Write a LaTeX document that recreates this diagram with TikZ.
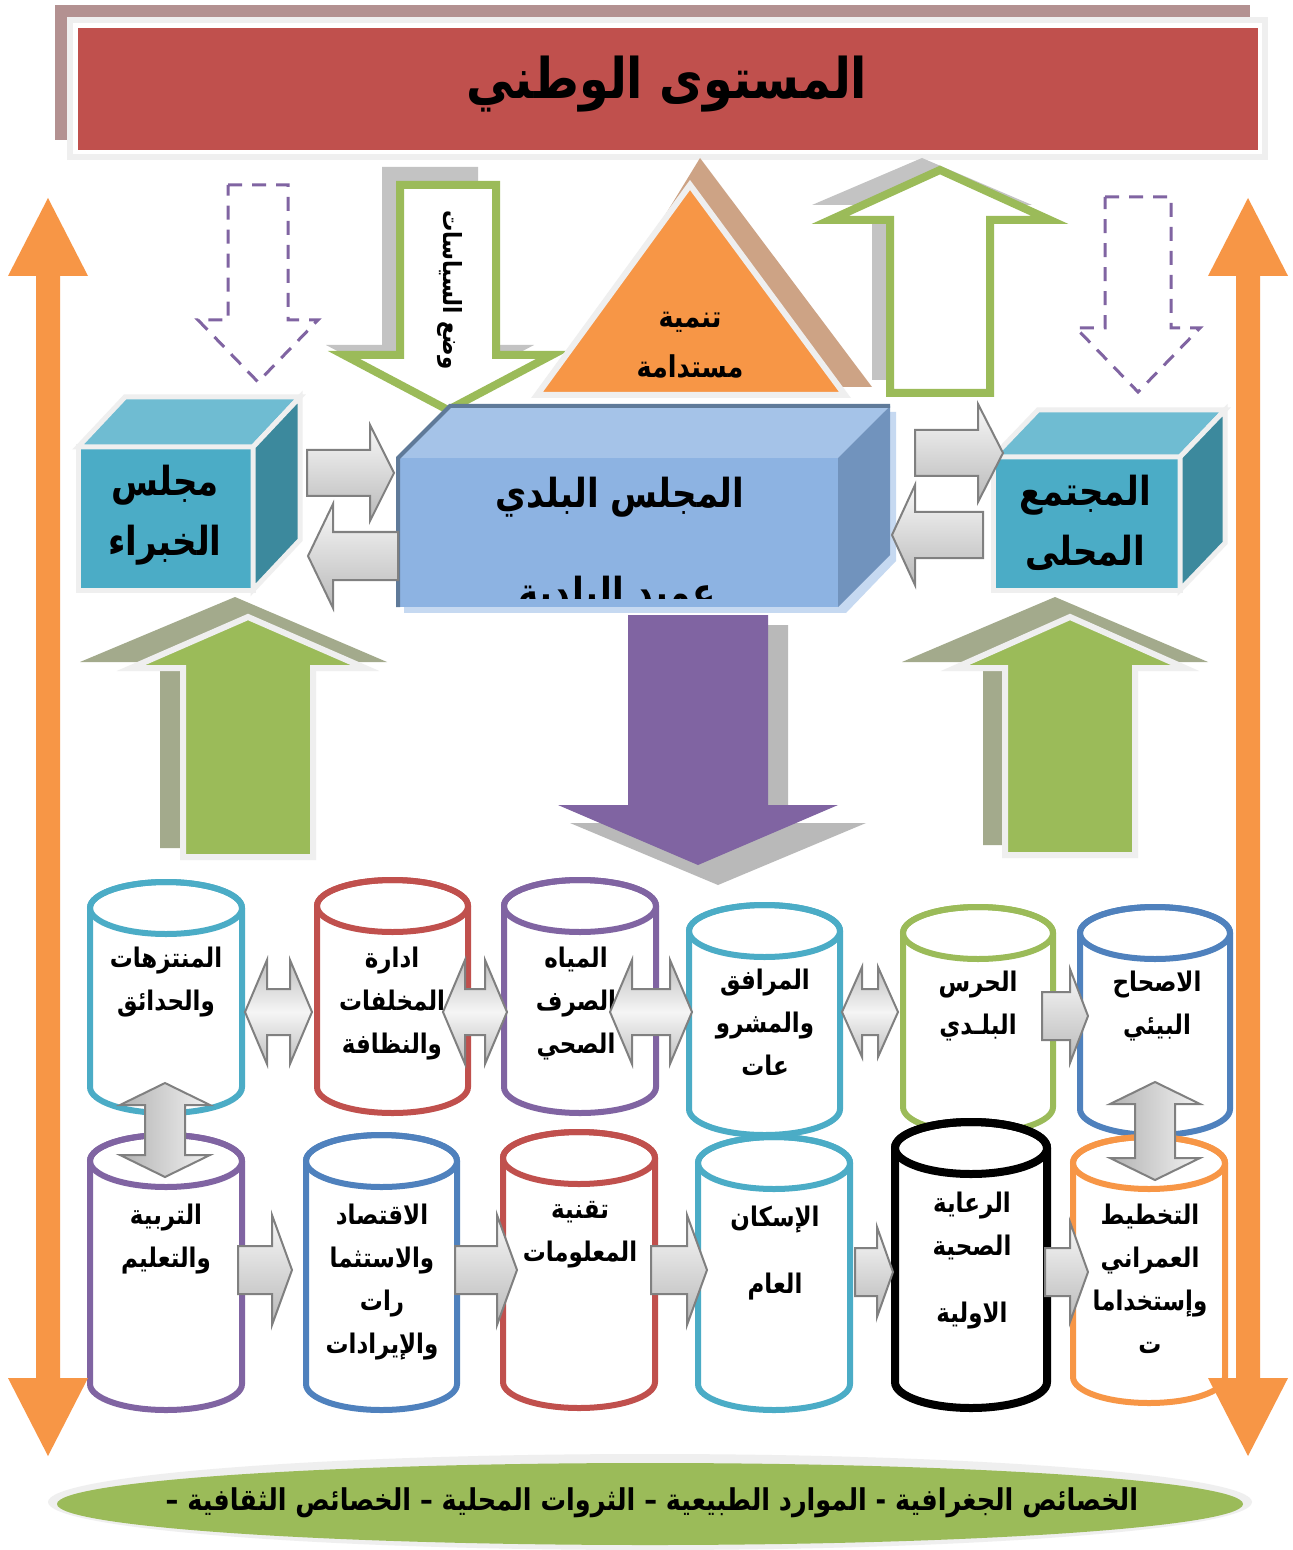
\documentclass[tikz,border=0pt]{standalone}
\usepackage{graphicx}
\usepackage{fontspec}
\newfontfamily\arfont[Script=Arabic]{DejaVu Sans}
\TeXXeTstate=1
% right-to-left line, slightly condensed
\newcommand\rl[1]{\scalebox{0.85}[1]{\beginR#1\endR}}
\newcommand\arb{\arfont\bfseries}

\definecolor{bannerred}{HTML}{C0504D}
\definecolor{bannershadow}{HTML}{B39191}
\definecolor{orangeA}{HTML}{F79646}
\definecolor{tealA}{HTML}{4BACC6}
\definecolor{tealTop}{HTML}{6FBCD2}
\definecolor{tealSide}{HTML}{3C899D}
\definecolor{blueFront}{HTML}{8DB3E2}
\definecolor{blueTop}{HTML}{A5C3E8}
\definecolor{blueSide}{HTML}{7193BD}
\definecolor{blueEdge}{HTML}{5F7A99}
\definecolor{blueGlow}{HTML}{C6D9F1}
\definecolor{greenA}{HTML}{9BBB59}
\definecolor{purpleA}{HTML}{8064A2}
\definecolor{blueA}{HTML}{4F81BD}
\definecolor{tanShadow}{HTML}{CDA385}
\definecolor{oliveShadow}{HTML}{A3AA8C}
\definecolor{frameGray}{HTML}{EFEFEF}
\definecolor{arrowShadow}{HTML}{C3C3C3}

% right-pointing block arrow: tail x, apex x, centre y, half shaft, half head, head length
\newcommand\blockR[7][]{\path[#1] (#2,{#4-#5}) -- ({#3-#7},{#4-#5}) -- ({#3-#7},{#4-#6}) -- (#3,#4) -- ({#3-#7},{#4+#6}) -- ({#3-#7},{#4+#5}) -- (#2,{#4+#5}) -- cycle;}
% left-pointing block arrow: apex x, tail x, centre y, half shaft, half head, head length
\newcommand\blockL[7][]{\path[#1] (#3,{#4-#5}) -- ({#2+#7},{#4-#5}) -- ({#2+#7},{#4-#6}) -- (#2,#4) -- ({#2+#7},{#4+#6}) -- ({#2+#7},{#4+#5}) -- (#3,{#4+#5}) -- cycle;}
% double horizontal block arrow
\newcommand\blockLR[7][]{\path[#1] (#2,#4) -- ({#2+#7},{#4-#6}) -- ({#2+#7},{#4-#5}) -- ({#3-#7},{#4-#5}) -- ({#3-#7},{#4-#6}) -- (#3,#4) -- ({#3-#7},{#4+#6}) -- ({#3-#7},{#4+#5}) -- ({#2+#7},{#4+#5}) -- ({#2+#7},{#4+#6}) -- cycle;}
% double vertical block arrow: centre x, top y, bottom y, half shaft, half head, head length
\newcommand\blockUD[7][]{\path[#1] (#2,#3) -- ({#2+#6},{#3+#7}) -- ({#2+#5},{#3+#7}) -- ({#2+#5},{#4-#7}) -- ({#2+#6},{#4-#7}) -- (#2,#4) -- ({#2-#6},{#4-#7}) -- ({#2-#5},{#4-#7}) -- ({#2-#5},{#3+#7}) -- ({#2-#6},{#3+#7}) -- cycle;}
% vertical block arrow: centre x, half shaft, half head, tail y, head base y, apex y
\newcommand\vArrow[7][]{\path[#1] ({#2-#3},#5) -- ({#2+#3},#5) -- ({#2+#3},#6) -- ({#2+#4},#6) -- (#2,#7) -- ({#2-#4},#6) -- ({#2-#3},#6) -- cycle;}
% cylinder: left x, right x, top y, bottom y, colour, line width
\newcommand\cyl[6]{%
  \path[draw=#5, line width=#6, fill=white] (#1,{#3+26}) -- (#1,{#4-26})
    arc[start angle=180, end angle=0, x radius={(#2-#1)/2}, y radius=26]
    -- (#2,{#3+26})
    arc[start angle=0, end angle=-180, x radius={(#2-#1)/2}, y radius=26] -- cycle;
  \draw[#5, line width=#6] ({(#1+#2)/2},{#3+26}) ellipse[x radius={(#2-#1)/2}, y radius=26];}
% cube: front left, front top, front right, front bottom, depth x, depth y, front, top, side colours
\newcommand\cube[9]{%
  \path[fill=#7, draw=frameGray, line width=2.5pt] (#1,#2) rectangle (#3,#4);
  \path[fill=#8, draw=frameGray, line width=2.5pt] (#1,#2) -- ({#1+#5},{#2-#6}) -- ({#3+#5},{#2-#6}) -- (#3,#2) -- cycle;
  \path[fill=#9, draw=frameGray, line width=2.5pt] (#3,#2) -- ({#3+#5},{#2-#6}) -- ({#3+#5},{#4-#6}) -- (#3,#4) -- cycle;}

\tikzset{
  grayH/.style={draw=black!50, line width=1pt, top color=gray!5, bottom color=gray!55},
  grayD/.style={draw=black!50, line width=1pt, top color=gray!50, bottom color=gray!50, middle color=gray!8},
  grayV/.style={draw=black!50, line width=1pt, left color=gray!60, right color=gray!10},
  dashedarrow/.style={draw=purpleA, dashed, dash pattern=on 7pt off 5pt, line width=1.5pt, fill=white},
  greenoutline/.style={draw=greenA, line width=4pt, fill=white},
  cyltext/.style={font=\arb\fontsize{13.5}{21.5}\selectfont, align=center, inner sep=0pt},
  cubetext/.style={font=\arb\fontsize{20}{30}\selectfont, align=center, inner sep=0pt},
}

\begin{document}
\begin{tikzpicture}[x=0.5pt,y=-0.5pt]
\useasboundingbox (0,0) rectangle (1293,1550);
\fill[white] (0,0) rectangle (1293,1550);

% national level banner
\fill[bannershadow] (55,5) rectangle (1250,140);
\path[fill=white, draw=frameGray, line width=3pt] (70,20) rectangle (1265,157);
\fill[bannerred] (78,28) rectangle (1258,150);
\node[font=\arb\fontsize{28}{34}\selectfont] (national) at (667,84) {\rl{المستوى الوطني}};

% dashed down arrows
\vArrow[dashedarrow]{258}{30}{60}{185}{320}{382}
\vArrow[dashedarrow]{1138}{33}{62}{197}{328}{392}

% policy-making arrow
\vArrow[fill=arrowShadow]{430}{48}{104}{167}{345}{400}
\vArrow[greenoutline]{448}{48}{104}{185}{355}{410}
\node[font=\arb\fontsize{12.5}{15}\selectfont, rotate=-90] (policy) at (450,290) {\rl{وضع السياسات}};

% sustainable development triangle
\fill[tanShadow] (700,158) -- (872,387) -- (560,387) -- cycle;
\path[fill=orangeA, draw=frameGray, line width=3pt] (690,185) -- (845,395) -- (537,395) -- cycle;
\node[font=\arb\fontsize{15}{25}\selectfont, align=center] (sustain) at (690,345) {\rl{تنمية}\\\rl{مستدامة}};

% upward outlined arrow
\vArrow[fill=arrowShadow]{922}{50}{110}{380}{205}{158}
\vArrow[greenoutline]{940}{50}{110}{393}{220}{170}

% municipal council box
\fill[blueGlow] (404,464) rectangle (846,613);
\fill[blueGlow] (404,464) -- (456,412) -- (896,412) -- (896,561) -- (846,613) -- cycle;
\fill[blueFront] (398,458) rectangle (838,607);
\fill[blueTop] (398,458) -- (450,406) -- (890,406) -- (838,458) -- cycle;
\fill[blueSide] (838,458) -- (890,406) -- (890,555) -- (838,607) -- cycle;
\draw[blueEdge, line width=2pt] (398,607) -- (398,458) -- (450,406) -- (890,406);
\node[font=\arb\fontsize{20}{24}\selectfont] (council) at (620,497) {\rl{المجلس البلدي}};
\begin{scope}
  \clip (398,458) rectangle (838,598);
  \node[font=\arb\fontsize{20}{24}\selectfont, anchor=base] (mayor) at (617,606) {\rl{عميد البلدية}};
\end{scope}

% experts council cube
\cube{78}{447}{253}{590}{47}{50}{tealA}{tealTop}{tealSide}
\node[cubetext] (experts) at (165,515) {\rl{مجلس}\\\rl{الخبراء}};
% local community cube
\cube{993}{457}{1180}{590}{45}{47}{tealA}{tealTop}{tealSide}
\node[cubetext] (community) at (1085,523) {\rl{المجتمع}\\\rl{المحلى}};

% exchange arrows around the council
\blockR[grayH]{307}{394}{473}{23}{48}{24}
\blockL[grayH]{308}{398}{556}{24}{52}{25}
\blockR[grayH]{915}{1003}{453}{23}{49}{25}
\blockL[grayH]{892}{983}{535}{23}{50}{23}

% large green arrows with shadows
\fill[oliveShadow] (235,597) -- (387,662) -- (290,662) -- (290,848) -- (160,848) -- (160,662) -- (80,662) -- cycle;
\vArrow[fill=greenA, draw=frameGray, line width=3pt]{248}{65}{117}{857}{668}{617}
\fill[oliveShadow] (1055,597) -- (1208,662) -- (1113,662) -- (1113,845) -- (983,845) -- (983,662) -- (902,662) -- cycle;
\vArrow[fill=greenA, draw=frameGray, line width=3pt]{1070}{65}{115}{855}{668}{617}

% purple downward arrow
\vArrow[fill=gray!55]{718}{70}{148}{625}{823}{885}
\vArrow[fill=purpleA]{698}{70}{140}{615}{805}{865}

% services, upper row
\cyl{90}{242}{882}{1113}{tealA}{3pt}
\cyl{317}{468}{880}{1113}{bannerred}{3pt}
\cyl{504}{656}{880}{1113}{purpleA}{3pt}
\cyl{689}{840}{905}{1135}{tealA}{3pt}
\cyl{903}{1053}{907}{1133}{greenA}{3pt}
\cyl{1080}{1230}{907}{1135}{blueA}{3pt}
% services, lower row
\cyl{90}{242}{1135}{1410}{purpleA}{3pt}
\cyl{306}{457}{1135}{1410}{blueA}{3pt}
\cyl{503}{655}{1132}{1408}{bannerred}{3pt}
\cyl{698}{850}{1137}{1410}{tealA}{3pt}
\cyl{895}{1047}{1122}{1408}{black}{4pt}
\cyl{1073}{1225}{1137}{1403}{orangeA}{3pt}

\node[cyltext, anchor=north] (parks) at (166,947) {\rl{المنتزهات}\\\rl{والحدائق}};
\node[cyltext, anchor=north] (waste) at (392,947) {\rl{ادارة}\\\rl{المخلفات}\\\rl{والنظافة}};
\node[cyltext, anchor=north] (water) at (576,947) {\rl{المياه}\\\rl{الصرف}\\\rl{الصحي}};
\node[cyltext, anchor=north] (utilities) at (765,969) {\rl{المرافق}\\\rl{والمشرو}\\\rl{عات}};
\node[cyltext, anchor=north] (guard) at (978,971) {\rl{الحرس}\\\rl{البلـدي}};
\node[cyltext, anchor=north] (sanitation) at (1157,971) {\rl{الاصحاح}\\\rl{البيئي}};
\node[cyltext, anchor=north] (education) at (166,1204) {\rl{التربية}\\\rl{والتعليم}};
\node[cyltext, anchor=north] (economy) at (382,1204) {\rl{الاقتصاد}\\\rl{والاستثما}\\\rl{رات}\\\rl{والإيرادات}};
\node[cyltext, anchor=north] (infotech) at (580,1201) {\rl{تقنية}\\\rl{المعلومات}};
\node[cyltext, anchor=north] (housing) at (775,1206) {\rl{الإسكان}\\[12pt]\rl{العام}};
\node[cyltext, anchor=north] (health) at (972,1192) {\rl{الرعاية}\\\rl{الصحية}\\[12pt]\rl{الاولية}};
\node[cyltext, anchor=north] (planning) at (1150,1204) {\rl{التخطيط}\\\rl{العمراني}\\\rl{وإستخداما}\\\rl{ت}};

% links between services
\blockLR[grayD]{245}{312}{1012}{23}{52}{22}
\blockLR[grayD]{443}{507}{1012}{23}{52}{22}
\blockLR[grayD]{610}{692}{1012}{23}{52}{22}
\blockLR[grayD]{842}{898}{1012}{23}{45}{20}
\blockR[grayH]{1042}{1088}{1016}{24}{47}{18}
\blockUD[grayV]{165}{1083}{1177}{20}{45}{22}
\blockUD[grayV]{1155}{1082}{1180}{20}{45}{22}
\blockR[grayH]{238}{292}{1270}{24}{55}{20}
\blockR[grayH]{455}{517}{1270}{24}{55}{20}
\blockR[grayH]{651}{707}{1270}{24}{55}{20}
\blockR[grayH]{855}{893}{1272}{24}{45}{16}
\blockR[grayH]{1045}{1088}{1272}{24}{50}{18}

% local characteristics
\fill[frameGray] (650,1502) ellipse[x radius=602, y radius=48];
\fill[greenA] (650,1504) ellipse[x radius=593, y radius=41];
\node[font=\arb\fontsize{15}{18}\selectfont] (traits) at (652,1503) {\rl{الخصائص الجغرافية - الموارد الطبيعية – الثروات المحلية – الخصائص الثقافية –}};

% orange side arrows
\fill[orangeA] (48,198) -- (88,276) -- (60,276) -- (60,1378) -- (88,1378) -- (48,1456) -- (8,1378) -- (36,1378) -- (36,276) -- (8,276) -- cycle;
\fill[orangeA] (1248,198) -- (1288,276) -- (1260,276) -- (1260,1378) -- (1288,1378) -- (1248,1456) -- (1208,1378) -- (1236,1378) -- (1236,276) -- (1208,276) -- cycle;
\end{tikzpicture}
\end{document}
